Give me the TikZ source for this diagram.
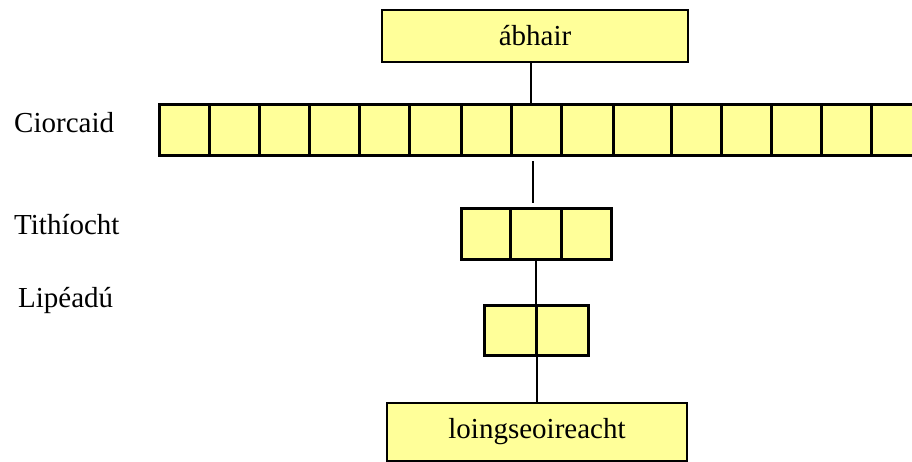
\documentclass[tikz,border=0pt]{standalone}
\usepackage{fontspec}
\setmainfont{Liberation Serif}
\usetikzlibrary{positioning}
\definecolor{cellyellow}{HTML}{FFFF99}
\tikzset{
  cell/.style={draw, line width=3pt, fill=cellyellow, minimum height=51pt, inner sep=0pt},
  namebox/.style={draw, line width=2pt, fill=cellyellow, inner sep=0pt, font=\fontsize{29}{35}\selectfont},
  rowlabel/.style={anchor=base west, inner sep=0pt, font=\fontsize{29}{35}\selectfont},
  link/.style={line width=2pt}
}

\begin{document}
\begin{tikzpicture}[x=1pt, y=-1pt]
    \useasboundingbox (0,0) rectangle (912,462);

    % Draw top and bottom boxes
    \node[namebox, minimum width=306pt, minimum height=52pt] (abhair) at (535,36) {ábhair};
    \node[namebox, minimum width=300pt, minimum height=58pt] (loing) at (537,432) {loingseoireacht};

    % Draw the rows of cells
    \foreach \l/\r [count=\i] in {159/209, 209/259, 259/309, 309/359, 359/409, 409/461, 461/511, 511/561, 561/613, 613/671, 671/721, 721/771, 771/821, 821/871, 871/921} {
      \pgfmathsetmacro\w{\r-\l}
      \node[cell, minimum width=\w pt] (c\i) at ({(\l+\r)/2},130.5) {};
    }
    \foreach \l/\r [count=\i] in {461/510, 510/561, 561/611} {
      \pgfmathsetmacro\w{\r-\l}
      \node[cell, minimum width=\w pt] (t\i) at ({(\l+\r)/2},234) {};
    }
    \foreach \l/\r [count=\i] in {484/536, 536/588} {
      \pgfmathsetmacro\w{\r-\l}
      \node[cell, minimum width=\w pt, minimum height=50pt] (l\i) at ({(\l+\r)/2},330) {};
    }

    % Row labels
    \node[rowlabel] (ciorcaid) at (14,133) {Ciorcaid};
    \node[rowlabel] (tithiocht) at (14,235) {Tithíocht};
    \node[rowlabel] (lipeadu) at (18,307) {Lipéadú};

    % Connectors
    \draw[link] ([xshift=-4pt]abhair.south) -- ([xshift=-4pt]abhair.south |- c8.north);
    \draw[link, shorten <=4pt, shorten >=4pt] ([xshift=-3pt]c8.south) -- ([xshift=-3pt]c8.south |- t2.north);
    \draw[link] (t2.south) -- (t2.south |- l1.north);
    \draw[link] (loing.north |- l1.south) -- (loing.north);

\end{tikzpicture}
\end{document}
